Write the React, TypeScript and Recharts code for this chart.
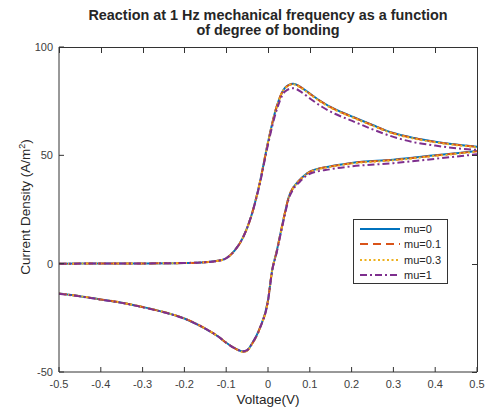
import { LineChart, Line, XAxis, YAxis, Legend, Label } from "recharts";

const FONT = '"Liberation Sans", Arial, Helvetica, sans-serif';

const xTicks = [-0.5, -0.4, -0.3, -0.2, -0.1, 0, 0.1, 0.2, 0.3, 0.4, 0.5];
const yTicks = [-50, 0, 50, 100];
const xDomain = [-0.5, 0.5];
const yDomain = [-50, 100];
const seriesNames = ["mu=0", "mu=0.1", "mu=0.3", "mu=1"];

// forward sweep (-0.5 -> 0.5)
const forwardVoltage = [
  -0.5, -0.4, -0.3, -0.2, -0.15, -0.12, -0.1, -0.08, -0.06, -0.04, -0.02, 0,
  0.02, 0.04, 0.06, 0.08, 0.1, 0.13, 0.16, 0.2, 0.25, 0.3, 0.35, 0.4, 0.45, 0.5,
];
const forwardMu0 = [
  0, 0.05, 0.1, 0.3, 0.7, 1.3, 2.5, 6, 12, 22, 37, 56,
  72, 81, 83, 81.3, 78.5, 74.5, 71.3, 68, 64, 60.3, 58, 56.3, 55, 54,
];
const forwardMu01 = [
  0, 0.05, 0.1, 0.3, 0.7, 1.3, 2.5, 6, 12, 22, 37, 56,
  72, 81, 83, 81.2, 78.4, 74.4, 71.2, 67.9, 63.9, 60.2, 57.9, 56.2, 54.9, 53.9,
];
const forwardMu03 = [
  0, 0.05, 0.1, 0.3, 0.7, 1.3, 2.5, 6, 12, 22, 37, 55.8,
  71.8, 80.8, 82.8, 81, 78.2, 74.2, 71, 67.7, 63.7, 60, 57.7, 56, 54.7, 53.7,
];
const forwardMu1 = [
  0, 0.05, 0.1, 0.3, 0.7, 1.3, 2.5, 6, 12, 22, 36.5, 55,
  70.5, 79.3, 81, 79.2, 76.3, 72.3, 69.2, 66, 62, 58.5, 56, 54.5, 53.3, 52.5,
];

// reverse sweep (0.5 -> -0.5), listed by ascending voltage
const reverseVoltage = [
  -0.5, -0.45, -0.4, -0.35, -0.3, -0.25, -0.2, -0.15, -0.12, -0.1, -0.08, -0.06,
  -0.05, -0.04, -0.02, 0, 0.01, 0.02, 0.03, 0.04, 0.05, 0.06, 0.075, 0.1, 0.15,
  0.2, 0.3, 0.4, 0.5,
];
const reverseMu0 = [
  -13.8, -15, -16.5, -18, -20, -22.3, -25.3, -30, -33.5, -36.5, -39, -40.5,
  -40, -37.5, -30, -17, -3, 5, 14, 23, 31, 35, 38.5, 42.5, 45,
  46.5, 48, 50, 52,
];
const reverseMu01 = [
  -13.8, -15, -16.5, -18, -20, -22.3, -25.3, -30, -33.5, -36.5, -39, -40.6,
  -40.1, -37.6, -30, -17, -3, 5, 14, 23, 31, 35, 38.4, 42.4, 44.9,
  46.4, 47.9, 49.9, 51.9,
];
const reverseMu03 = [
  -13.8, -15, -16.5, -18, -20, -22.3, -25.3, -30, -33.5, -36.5, -39, -40.7,
  -40.2, -37.7, -30.1, -17, -3, 5, 14, 23, 30.8, 34.8, 38.2, 42.2, 44.7,
  46.2, 47.7, 49.7, 51.7,
];
const reverseMu1 = [
  -13.9, -15.1, -16.6, -18.1, -20.1, -22.4, -25.4, -30, -33.5, -36.5, -39, -40.4,
  -39.9, -37.4, -30, -17.2, -3.3, 4.5, 13.5, 22.3, 30.2, 34.2, 37.6, 41.5, 43.6,
  44.9, 46.4, 48.4, 50.5,
];

const toPoints = (vs: number[], is: number[]) => vs.map((v, k) => ({ v, i: is[k] }));

const forwardSeries = [forwardMu0, forwardMu01, forwardMu03, forwardMu1];
const reverseSeries = [reverseMu0, reverseMu01, reverseMu03, reverseMu1];

const lineStyles = [
  { color: "#0072BD", dash: undefined },
  { color: "#D95319", dash: "8 5" },
  { color: "#EDB120", dash: "2 2.5" },
  { color: "#7E2F8E", dash: "7 3 2 3" },
];

const W = 487;
const H = 415;
const margin = { top: 47, right: 10, bottom: 0, left: 0 };
const yAxisWidth = 59;
const xAxisHeight = 43;
const plot = {
  left: margin.left + yAxisWidth,
  right: W - margin.right,
  top: margin.top,
  bottom: H - margin.bottom - xAxisHeight,
};

const axisColor = "#333333";
const tickStyle = { fontSize: 11, fill: "#404040", fontFamily: FONT };

// top/right box edges with inward ticks (MATLAB "box on")
function BoxFrame() {
  const sx = (v: number) => ((v - xDomain[0]) / (xDomain[1] - xDomain[0])) * (plot.right - plot.left);
  const sy = (v: number) => ((yDomain[1] - v) / (yDomain[1] - yDomain[0])) * (plot.bottom - plot.top);
  return (
    <div
      style={{
        position: "absolute",
        left: plot.left,
        top: plot.top,
        width: plot.right - plot.left + 1,
        height: plot.bottom - plot.top,
        boxSizing: "border-box",
        borderTop: `1px solid ${axisColor}`,
        borderRight: `1px solid ${axisColor}`,
        pointerEvents: "none",
        zIndex: 5,
      }}
    >
      {xTicks.map((t) => (
        <div
          key={`x${t}`}
          style={{ position: "absolute", left: Math.round(sx(t)) - 0.5, top: 0, width: 1, height: 5, background: axisColor }}
        />
      ))}
      {yTicks.map((t) => (
        <div
          key={`y${t}`}
          style={{ position: "absolute", right: 0, top: Math.round(sy(t)) - 1, width: 5, height: 1, background: axisColor }}
        />
      ))}
    </div>
  );
}

function renderLegend() {
  return (
    <div
      style={{
        width: 95,
        height: 65,
        boxSizing: "border-box",
        border: `1px solid ${axisColor}`,
        background: "#fff",
        fontFamily: FONT,
        fontSize: 11,
        color: "#262626",
      }}
    >
      {seriesNames.map((name, k) => (
        <div key={name} style={{ display: "flex", alignItems: "center", height: 15.5, marginTop: k === 0 ? 1 : 0 }}>
          <svg width={50} height={10} style={{ flex: "none" }}>
            <line
              x1={6}
              x2={46}
              y1={5}
              y2={5}
              stroke={lineStyles[k].color}
              strokeWidth={2}
              strokeDasharray={lineStyles[k].dash}
            />
          </svg>
          <span>{name}</span>
        </div>
      ))}
    </div>
  );
}

export default function App() {
  return (
    <div style={{ position: "absolute", left: 0, top: 0, width: W, height: H, background: "#fff" }}>
      <div
        style={{
          position: "absolute",
          left: plot.left,
          top: 8,
          width: plot.right - plot.left,
          textAlign: "center",
          fontFamily: FONT,
          fontWeight: "bold",
          fontSize: 14.4,
          lineHeight: "15px",
          color: "#262626",
        }}
      >
        Reaction at 1 Hz mechanical frequency as a function
        <br />
        of degree of bonding
      </div>
      <LineChart width={W} height={H} margin={margin}>
        <XAxis
          dataKey="v"
          type="number"
          domain={xDomain}
          ticks={xTicks}
          interval={0}
          allowDataOverflow
          height={xAxisHeight}
          stroke={axisColor}
          tickSize={-5}
          tickMargin={13}
          tick={tickStyle}
          tickFormatter={(v: number) => (v === 0 ? "0" : String(v))}
        >
          <Label
            content={() => (
              <text x={268} y={404} textAnchor="middle" fontSize={13.5} fill="#262626" fontFamily={FONT}>
                Voltage(V)
              </text>
            )}
          />
        </XAxis>
        <YAxis
          type="number"
          domain={yDomain}
          ticks={yTicks}
          interval={0}
          allowDataOverflow
          width={yAxisWidth}
          stroke={axisColor}
          tickSize={-5}
          tickMargin={11}
          tick={tickStyle}
        >
          <Label
            content={() => (
              <text
                transform="rotate(-90)"
                x={-207}
                y={29.5}
                textAnchor="middle"
                fontSize={13.5}
                fill="#262626"
                fontFamily={FONT}
              >
                Current Density (A/m
                <tspan dy={-5} fontSize={9}>2</tspan>
                <tspan dy={5}>)</tspan>
              </text>
            )}
          />
        </YAxis>
        <Legend
          layout="horizontal"
          verticalAlign="middle"
          align="center"
          wrapperStyle={{ left: 353, top: 219, width: 95, height: 65 }}
          content={renderLegend}
        />
        {seriesNames.map((name, k) => [
          <Line
            key={`${name}-f`}
            data={toPoints(forwardVoltage, forwardSeries[k])}
            dataKey="i"
            name={name}
            type="monotone"
            stroke={lineStyles[k].color}
            strokeWidth={2}
            strokeDasharray={lineStyles[k].dash}
            dot={false}
            activeDot={false}
            isAnimationActive={false}
          />,
          <Line
            key={`${name}-r`}
            data={toPoints(reverseVoltage, reverseSeries[k])}
            dataKey="i"
            name={`${name} reverse`}
            legendType="none"
            type="monotone"
            stroke={lineStyles[k].color}
            strokeWidth={2}
            strokeDasharray={lineStyles[k].dash}
            dot={false}
            activeDot={false}
            isAnimationActive={false}
          />,
        ])}
      </LineChart>
      <BoxFrame />
    </div>
  );
}
